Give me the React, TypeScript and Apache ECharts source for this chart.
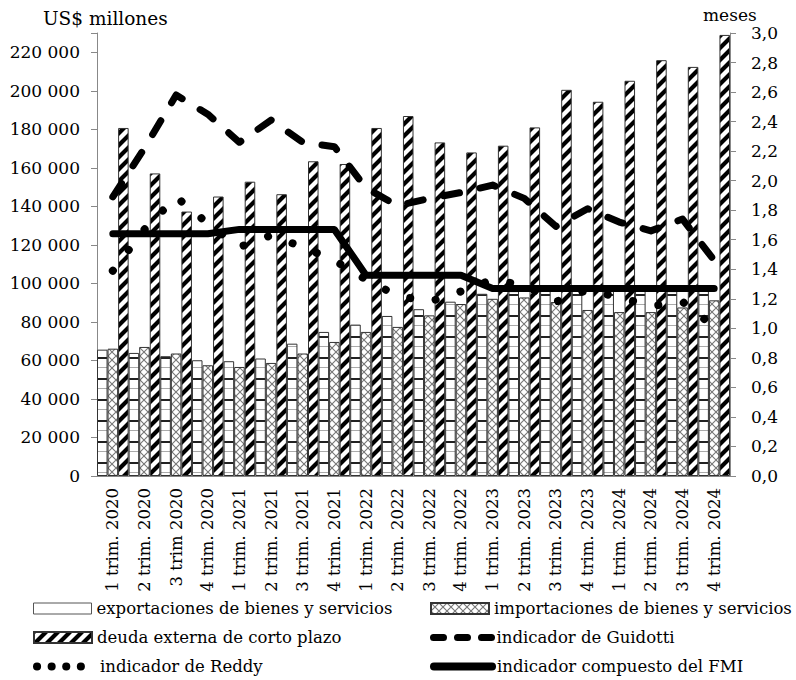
import React, { useEffect, useRef } from 'react';
import * as echarts from 'echarts';

const categories = [
  '1 trim. 2020', '2 trim. 2020', '3 trim 2020', '4 trim. 2020',
  '1 trim. 2021', '2 trim. 2021', '3 trim. 2021', '4 trim. 2021',
  '1 trim. 2022', '2 trim. 2022', '3 trim. 2022', '4 trim. 2022',
  '1 trim. 2023', '2 trim. 2023', '3 trim. 2023', '4 trim. 2023',
  '1 trim. 2024', '2 trim. 2024', '3 trim. 2024', '4 trim. 2024',
];

const exportsData = [65600, 63900, 62200, 60100, 59600, 61000, 68700, 74800, 78600, 83100,
  86600, 90500, 94600, 96000, 96500, 96800, 96500, 96200, 96000, 96500];
const importsData = [66100, 67000, 63600, 57500, 56600, 58700, 63600, 69600, 74800, 77400,
  83400, 89300, 92000, 92700, 90300, 86200, 85100, 85100, 87500, 91200];
const shortDebt = [180700, 157100, 137300, 145100, 152800, 146300, 163400, 162000, 180700, 186900,
  173200, 168000, 171500, 181000, 200500, 194300, 205200, 215900, 212400, 229000];

const guidotti = [1.89, 2.22, 2.58, 2.45, 2.26, 2.41, 2.26, 2.23, 1.95, 1.83,
  1.88, 1.92, 1.97, 1.88, 1.69, 1.81, 1.72, 1.66, 1.74, 1.46];
const reddy = [1.39, 1.67, 1.89, 1.71, 1.55, 1.63, 1.55, 1.46, 1.33, 1.22,
  1.18, 1.25, 1.33, 1.29, 1.18, 1.26, 1.21, 1.15, 1.18, 1.01];
const fmi = [1.64, 1.64, 1.64, 1.64, 1.67, 1.67, 1.67, 1.67, 1.36, 1.36,
  1.36, 1.36, 1.27, 1.27, 1.27, 1.27, 1.27, 1.27, 1.27, 1.27];

const NAMES = {
  exp: 'exportaciones de bienes y servicios',
  imp: 'importaciones de bienes y servicios',
  debt: 'deuda externa de corto plazo',
  gui: 'indicador de Guidotti',
  red: 'indicador de Reddy',
  fmi: 'indicador compuesto del FMI',
};

const FONT = 'DejaVu Serif';

function makeTile(w: number, h: number, draw: (ctx: CanvasRenderingContext2D) => void) {
  const c = document.createElement('canvas');
  c.width = w;
  c.height = h;
  const ctx = c.getContext('2d')!;
  ctx.fillStyle = '#fff';
  ctx.fillRect(0, 0, w, h);
  draw(ctx);
  return { image: c.toDataURL(), repeat: 'repeat', imageWidth: w, imageHeight: h } as any;
}

export default function App() {
  const ref = useRef<HTMLDivElement>(null);
  useEffect(() => {
    const chart = echarts.init(ref.current!, null, { renderer: 'svg' });

    const expPattern = makeTile(10, 21, (ctx) => {
      ctx.fillStyle = '#222';
      ctx.fillRect(0, 0, 10, 2);
      ctx.fillStyle = '#aaa';
      ctx.fillRect(0, 10, 10, 1);
    });
    const impPattern = makeTile(8, 8, (ctx) => {
      ctx.strokeStyle = '#777';
      ctx.lineWidth = 1.1;
      ctx.beginPath();
      ctx.moveTo(0, 0); ctx.lineTo(8, 8);
      ctx.moveTo(8, 0); ctx.lineTo(0, 8);
      ctx.stroke();
    });
    const debtPattern = makeTile(12, 12, (ctx) => {
      ctx.strokeStyle = '#000';
      ctx.lineWidth = 4.2;
      ctx.beginPath();
      ctx.moveTo(-1, 13); ctx.lineTo(13, -1);
      ctx.moveTo(-3, 3); ctx.lineTo(3, -3);
      ctx.moveTo(9, 15); ctx.lineTo(15, 9);
      ctx.stroke();
    });

    const thousands = (v: number) => String(v).replace(/\B(?=(\d{3})+(?!\d))/g, ' ');
    const legendText = { fontFamily: FONT, fontSize: 16.5, color: '#000' };
    const mkLegend = (name: string, left: number, top: number, extra: any = {}) => ({
      data: [name], left, top, padding: 0, itemWidth: 58, itemHeight: 11,
      textStyle: legendText, selectedMode: false, ...extra,
    });

    const option: any = {
      animation: false,
      backgroundColor: '#fff',
      textStyle: { fontFamily: FONT },
      grid: { left: 97, right: 66, top: 33, bottom: 204 },
      xAxis: {
        type: 'category',
        data: categories,
        axisLine: { lineStyle: { color: '#888', width: 1 } },
        axisTick: { show: false },
        axisLabel: { rotate: 90, interval: 0, margin: 12, fontFamily: FONT, fontSize: 16.5, color: '#000' },
      },
      yAxis: [
        {
          type: 'value', min: 0, max: 230000, interval: 20000,
          axisLine: { show: true, lineStyle: { color: '#888' } },
          axisTick: { show: true, length: 6, lineStyle: { color: '#888' } },
          splitLine: { show: false },
          axisLabel: {
            margin: 17, fontFamily: FONT, fontSize: 17, color: '#000',
            formatter: (v: number) => (v % 20000 === 0 ? thousands(v) : ''),
          },
        },
        {
          type: 'value', min: 0, max: 3, interval: 0.2, position: 'right',
          axisLine: { show: true, lineStyle: { color: '#888' } },
          axisTick: { show: true, length: 6, lineStyle: { color: '#888' } },
          splitLine: { show: false },
          axisLabel: {
            margin: 21, fontFamily: FONT, fontSize: 17, color: '#000',
            formatter: (v: number) => v.toFixed(1).replace('.', ','),
          },
        },
      ],
      legend: [
        mkLegend(NAMES.exp, 33, 600, { icon: 'rect', itemStyle: { color: '#fff', borderColor: '#555', borderWidth: 1 } }),
        mkLegend(NAMES.imp, 430, 600, { icon: 'rect' }),
        mkLegend(NAMES.debt, 33, 629, { icon: 'rect' }),
        mkLegend(NAMES.gui, 430, 629, { itemHeight: 8, lineStyle: { width: 7, type: [10, 14], cap: 'round' } }),
        mkLegend(NAMES.red, 33, 658, { itemHeight: 8, lineStyle: { width: 8, type: [0.1, 14.5], cap: 'round' } }),
        mkLegend(NAMES.fmi, 430, 658, { itemHeight: 8, lineStyle: { width: 8, cap: 'round' } }),
      ],
      graphic: [
        { type: 'text', left: 43, top: 9, style: { text: 'US$ millones', fontFamily: FONT, fontSize: 18.5, fill: '#000' } },
        { type: 'text', left: 703, top: 6, style: { text: 'meses', fontFamily: FONT, fontSize: 17, fill: '#000' } },
      ],
      series: [
        {
          name: NAMES.exp, type: 'bar', data: exportsData, barGap: '0%', barCategoryGap: '0%',
          itemStyle: { color: expPattern, borderColor: '#333', borderWidth: 1 },
        },
        {
          name: NAMES.imp, type: 'bar', data: importsData, barGap: '0%', barCategoryGap: '0%',
          itemStyle: { color: impPattern, borderColor: '#333', borderWidth: 1 },
        },
        {
          name: NAMES.debt, type: 'bar', data: shortDebt, barGap: '0%', barCategoryGap: '0%',
          itemStyle: { color: debtPattern, borderColor: '#333', borderWidth: 1 },
        },
        {
          name: NAMES.gui, type: 'line', yAxisIndex: 1, data: guidotti, symbol: 'none',
          lineStyle: { color: '#000', width: 7, type: [16, 21], cap: 'round', join: 'round' },
          itemStyle: { color: '#000' },
        },
        {
          name: NAMES.red, type: 'line', yAxisIndex: 1, data: reddy, symbol: 'none',
          lineStyle: { color: '#000', width: 8, type: [0.1, 26], cap: 'round', join: 'round' },
          itemStyle: { color: '#000' },
        },
        {
          name: NAMES.fmi, type: 'line', yAxisIndex: 1, data: fmi, symbol: 'none',
          lineStyle: { color: '#000', width: 7, cap: 'round', join: 'round' },
          itemStyle: { color: '#000' },
        },
      ],
    };
    chart.setOption(option);
    return () => chart.dispose();
  }, []);
  return <div ref={ref} style={{ position: 'fixed', left: 0, top: 0, width: 796, height: 680 }} />;
}
